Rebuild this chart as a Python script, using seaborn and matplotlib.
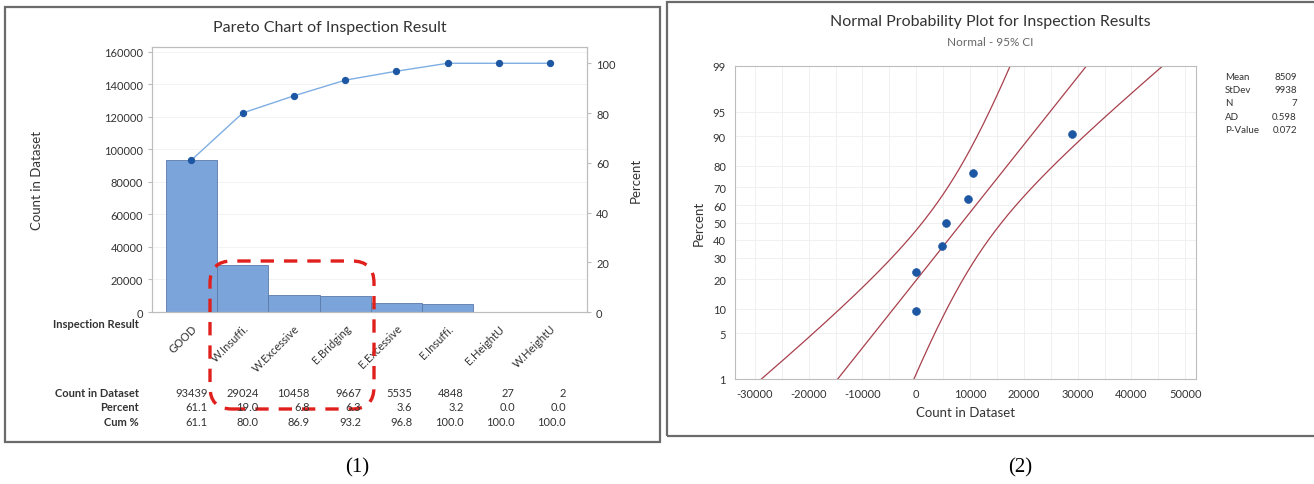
import statistics
import numpy as np
import matplotlib
matplotlib.use("Agg")
import matplotlib.pyplot as plt
import matplotlib.transforms as mtrans
from matplotlib.patches import Rectangle, FancyBboxPatch
import seaborn as sns

# ---------------- data ----------------
categories = ["GOOD", "W.Insuffi.", "W.Excessive", "E.Bridging",
              "E.Excessive", "E.Insuffi.", "E.HeightU", "W.HeightU"]
counts = [93439, 29024, 10458, 9667, 5535, 4848, 27, 2]
percent = [61.1, 19.0, 6.8, 6.3, 3.6, 3.2, 0.0, 0.0]
cum_percent = [61.1, 80.0, 86.9, 93.2, 96.8, 100.0, 100.0, 100.0]

# normal probability plot uses the 7 defect classes
defect_counts = [2, 27, 4848, 5535, 9667, 10458, 29024]
plot_percent = [9.5, 23.0, 36.5, 50.0, 63.5, 77.0, 90.5]
fit_mean = 8509
fit_stdev = 9938
fit_n = 7
stats_labels = ["Mean", "StDev", "N", "AD", "P-Value"]
stats_values = ["8509", "9938", "7", "0.598", "0.072"]
prob_ticks = [1, 5, 10, 20, 30, 40, 50, 60, 70, 80, 90, 95, 99]
count_ticks = [-30000, -20000, -10000, 0, 10000, 20000, 30000, 40000, 50000]

# ---------------- style ----------------
sns.set_theme(style="white")
plt.rcParams['font.family'] = ['Lato', 'DejaVu Sans']
TXT = "#333333"
SPINE = "#bdbdbd"
BAR = "#7ba4da"
LINE = "#7eaee2"
DOT = "#1d57a3"
RED_LINE = "#a8404c"

W, H = 1314, 485
fig = plt.figure(figsize=(W / 100, H / 100), dpi=100)


def rect(x0, y0, x1, y1):
    # pixel box (top-left origin) -> figure fraction
    return [x0 / W, 1 - y1 / H, (x1 - x0) / W, (y1 - y0) / H]


def fpos(x, y):
    return x / W, 1 - y / H


def style_axes(a):
    for s in a.spines.values():
        s.set_color(SPINE)
        s.set_linewidth(0.8)
    a.tick_params(colors=SPINE, labelcolor=TXT, labelsize=8, length=3, width=0.8)


# frames around both panels
fig.add_artist(Rectangle(fpos(5, 443), 655 / W, 435 / H, transform=fig.transFigure,
                         fill=False, edgecolor="#6b6b6b", lw=1.6))
fig.add_artist(Rectangle(fpos(667, 437), 650 / W, 434 / H, transform=fig.transFigure,
                         fill=False, edgecolor="#6b6b6b", lw=1.6))

# ==========================================
# 1. PARETO CHART
# ==========================================
ax = fig.add_axes(rect(152, 48, 587, 313))
sns.barplot(x=categories, y=counts, ax=ax, color=BAR, saturation=1, width=1.0,
            edgecolor="#5b7aa8", linewidth=0.6)
ax.set_xlim(-0.77, 7.72)
ax.set_ylim(0, 163000)
ax.set_yticks(range(0, 160001, 20000))
ax.yaxis.grid(True, color="#f1f1f1", lw=0.6)
ax.set_axisbelow(True)
style_axes(ax)
ax.set_xticks(range(len(categories)))
ax.set_xticklabels(categories, rotation=45, ha="right", rotation_mode="anchor", fontsize=8)
ax.tick_params(axis="x", length=4)
ax.set_xlabel("")
ax.set_ylabel("Count in Dataset", fontsize=9.5, color=TXT)
ax.yaxis.set_label_coords(-0.25, 0.5)

total = sum(counts)
ax2 = ax.twinx()
sns.lineplot(x=np.arange(len(categories)), y=cum_percent, ax=ax2, color=LINE, lw=1.0,
             marker="o", markersize=4.5, markerfacecolor=DOT, markeredgecolor=DOT)
ax2.set_xlim(-0.77, 7.72)
ax2.set_ylim(0, 163000 / total * 100)
ax2.set_yticks(range(0, 101, 20))
style_axes(ax2)
ax2.set_ylabel("Percent", fontsize=9.5, color=TXT, labelpad=10)

fig.text(*fpos(330, 28), "Pareto Chart of Inspection Result", ha="center", va="center",
         fontsize=11.5, color=TXT)
fig.text(*fpos(139, 325), "Inspection Result", ha="right", va="center",
         fontsize=8, color=TXT, fontweight="bold")

# table under the chart, columns follow the bar axis
col_tr = mtrans.blended_transform_factory(ax.transData, fig.transFigure) + \
    mtrans.ScaledTranslation(16 / 100, 0, fig.dpi_scale_trans)
rows = [("Count in Dataset", [str(c) for c in counts], 394),
        ("Percent", [f"{p:.1f}" for p in percent], 408),
        ("Cum %", [f"{p:.1f}" for p in cum_percent], 423)]
for label, vals, ypix in rows:
    fig.text(*fpos(139, ypix), label, ha="right", va="center", fontsize=8,
             color=TXT, fontweight="bold")
    for i, v in enumerate(vals):
        fig.text(i, 1 - ypix / H, v, transform=col_tr, ha="right", va="center",
                 fontsize=8, color=TXT)

# red dashed highlight
fig.add_artist(FancyBboxPatch((210, H - 410), 164, 148,
                              boxstyle="round,pad=0,rounding_size=22",
                              transform=mtrans.IdentityTransform(), fill=False,
                              edgecolor="#e0201c", lw=2.4, linestyle=(0, (4, 3))))

# ==========================================
# 2. NORMAL PROBABILITY PLOT
# ==========================================
nd = statistics.NormalDist()
bx = fig.add_axes(rect(735, 67, 1196, 380))
z_pts = [nd.inv_cdf(p / 100) for p in plot_percent]

p_grid = np.linspace(0.002, 0.998, 300)
z_grid = np.array([nd.inv_cdf(p) for p in p_grid])
fit_x = fit_mean + z_grid * fit_stdev
se = fit_stdev * np.sqrt(1 / fit_n + z_grid ** 2 / (2 * fit_n))
for xs in (fit_x - 1.96 * se, fit_x, fit_x + 1.96 * se):
    sns.lineplot(x=xs, y=z_grid, ax=bx, sort=False, estimator=None, color=RED_LINE, lw=0.9)
sns.scatterplot(x=defect_counts, y=z_pts, ax=bx, color=DOT, s=32, edgecolor=DOT, zorder=5)

bx.set_xlim(-33700, 52000)
bx.set_ylim(nd.inv_cdf(0.01), nd.inv_cdf(0.99))
bx.set_xticks(count_ticks)
bx.set_xticklabels([str(t) for t in count_ticks])
bx.set_xticks(range(-30000, 50001, 5000), minor=True)
bx.set_yticks([nd.inv_cdf(p / 100) for p in prob_ticks])
bx.set_yticklabels([str(p) for p in prob_ticks])
bx.grid(True, which="both", color="#eeeeee", lw=0.6)
bx.set_axisbelow(True)
style_axes(bx)
bx.tick_params(axis="x", which="minor", length=0)
bx.set_xlabel("Count in Dataset", fontsize=9.5, color=TXT, labelpad=5)
bx.set_ylabel("Percent", fontsize=9.5, color=TXT, labelpad=6)

fig.text(*fpos(990, 22), "Normal Probability Plot for Inspection Results", ha="center",
         va="center", fontsize=11.5, color=TXT)
fig.text(*fpos(990, 42), "Normal - 95% CI", ha="center", va="center",
         fontsize=8.5, color="#666666")
for k, (lab, val) in enumerate(zip(stats_labels, stats_values)):
    y = 77 + k * 13.5
    fig.text(*fpos(1225, y), lab, ha="left", va="center", fontsize=7, color=TXT)
    fig.text(*fpos(1297, y), val, ha="right", va="center", fontsize=7, color=TXT)

# captions
fig.text(*fpos(357, 468), "(1)", ha="center", va="center", fontsize=15,
         family=["Liberation Serif", "DejaVu Serif"], color="black")
fig.text(*fpos(1020, 468), "(2)", ha="center", va="center", fontsize=15,
         family=["Liberation Serif", "DejaVu Serif"], color="black")

fig.savefig("out.png", dpi=100)
plt.close(fig)
